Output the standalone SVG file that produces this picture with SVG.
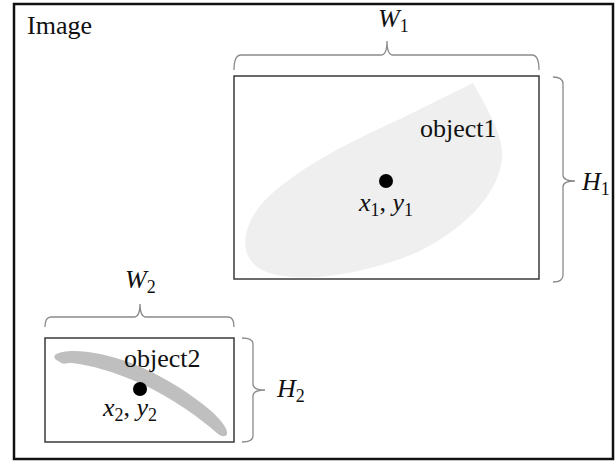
<svg xmlns="http://www.w3.org/2000/svg" width="616" height="461" viewBox="0 0 616 461">
<style>
.frame{fill:none;stroke:#111;stroke-width:2.5}
.box{fill:none;stroke:#3a3a3a;stroke-width:1.5}
.brace{fill:none;stroke:#8a8a8a;stroke-width:1.3}
.lbl{font-family:"Liberation Serif","Times New Roman",serif;font-size:26px;fill:#111}
.math{font-family:"Liberation Serif","Times New Roman",serif;font-size:26px;font-style:italic;fill:#111}
.sub{font-style:normal;font-size:18px}
.dot{fill:#000}
</style>
<rect x="0" y="0" width="616" height="461" fill="#fff"/>
<rect class="frame" x="14" y="4" width="599" height="455"/>
<text class="lbl" x="27" y="34" font-size="27px">Image</text>

<g id="object1">
  <path d="M473,83 C486,106 500,130 502,150 C505,186 470,226 420,251 C370,273 300,286 264,271 C238,259 240,228 264,201 C300,166 350,142 400,119 Z" fill="#efefef"/>
  <rect class="box" x="234" y="76" width="305" height="203"/>
  <text class="lbl" x="420" y="137">object1</text>
  <circle class="dot" cx="386" cy="181" r="7"/>
  <text class="math" x="359" y="211">x<tspan class="sub" dy="5">1</tspan><tspan dy="-5" font-style="normal">, </tspan>y<tspan class="sub" dy="5">1</tspan></text>
</g>

<g id="object2">
  <rect class="box" x="45" y="338" width="189" height="104"/>
  <path d="M55,355 C62,350 80,350 100,354 C140,362 180,385 210,410 C220,419 228,428 227,434 C226,437 222,437 218,434 C200,418 172,398 142,384 C115,372 90,365 72,363 C66,363 63,365 60,362 C56,360 53,358 55,355 Z" fill="#bfbfbf"/>
  <text class="lbl" x="124" y="367">object2</text>
  <circle class="dot" cx="140" cy="389" r="7"/>
  <text class="math" x="103" y="416">x<tspan class="sub" dy="5">2</tspan><tspan dy="-5" font-style="normal">, </tspan>y<tspan class="sub" dy="5">2</tspan></text>
</g>

<g id="connectors">
  <path class="brace" d="M234,70 Q234,55 241,55 L381,55 Q387,55 387,41 Q387,55 393,55 L532,55 Q539,55 539,70"/>
  <path class="brace" d="M553,77 Q563,77 563,84 L563,175 Q563,181 575,181 Q563,181 563,187 L563,275 Q563,282 553,282"/>
  <path class="brace" d="M45,327 Q45,317 51,317 L134,317 Q140,317 140,304 Q140,317 146,317 L228,317 Q234,317 234,327"/>
  <path class="brace" d="M242,338 Q253,338 253,344 L253,384 Q253,390 265,390 Q253,390 253,396 L253,436 Q253,442 242,442"/>
</g>

<g id="labels">
  <text class="math" x="378" y="27">W<tspan class="sub" dy="5">1</tspan></text>
  <text class="math" x="582" y="190">H<tspan class="sub" dy="5">1</tspan></text>
  <text class="math" x="125" y="288">W<tspan class="sub" dy="5">2</tspan></text>
  <text class="math" x="277" y="397">H<tspan class="sub" dy="5">2</tspan></text>
</g>
</svg>
